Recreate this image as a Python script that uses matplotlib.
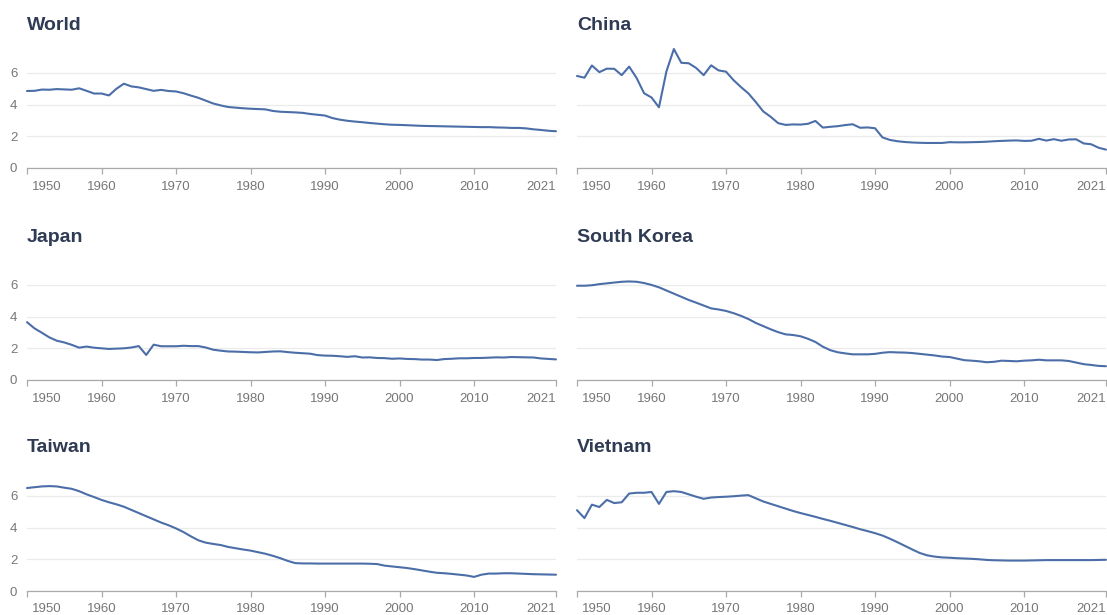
import matplotlib
matplotlib.use("Agg")
import matplotlib.pyplot as plt
from matplotlib.transforms import ScaledTranslation

plt.rcParams['font.family'] = ['Liberation Sans', 'DejaVu Sans']

years = list(range(1950, 2022))

world = [4.86, 4.87, 4.95, 4.94, 4.98, 4.96, 4.94, 5.03, 4.87, 4.70,
         4.70, 4.58, 5.00, 5.32, 5.15, 5.09, 4.98, 4.87, 4.93, 4.86,
         4.83, 4.72, 4.57, 4.43, 4.25, 4.07, 3.95, 3.85, 3.81, 3.77,
         3.74, 3.72, 3.70, 3.60, 3.55, 3.53, 3.51, 3.48, 3.41, 3.36,
         3.31, 3.15, 3.05, 2.98, 2.93, 2.89, 2.84, 2.80, 2.76, 2.73,
         2.72, 2.70, 2.68, 2.66, 2.65, 2.64, 2.63, 2.62, 2.61, 2.60,
         2.59, 2.58, 2.58, 2.56, 2.55, 2.53, 2.53, 2.50, 2.44, 2.40,
         2.35, 2.32]

china = [5.81, 5.70, 6.47, 6.05, 6.27, 6.26, 5.86, 6.40, 5.68, 4.72,
         4.45, 3.83, 6.09, 7.51, 6.64, 6.61, 6.31, 5.86, 6.48, 6.16,
         6.08, 5.55, 5.11, 4.71, 4.16, 3.57, 3.23, 2.83, 2.72, 2.75,
         2.74, 2.79, 2.97, 2.55, 2.60, 2.64, 2.71, 2.76, 2.54, 2.56,
         2.51, 1.93, 1.77, 1.69, 1.64, 1.61, 1.59, 1.58, 1.58, 1.58,
         1.63, 1.62, 1.62, 1.63, 1.64, 1.66, 1.69, 1.71, 1.73, 1.74,
         1.71, 1.72, 1.84, 1.73, 1.82, 1.72, 1.80, 1.81, 1.55, 1.50,
         1.28, 1.16]

japan = [3.65, 3.26, 2.98, 2.69, 2.48, 2.37, 2.22, 2.04, 2.11, 2.04,
         2.00, 1.96, 1.98, 2.00, 2.05, 2.14, 1.58, 2.23, 2.13, 2.13,
         2.13, 2.16, 2.14, 2.14, 2.05, 1.91, 1.85, 1.80, 1.79, 1.77,
         1.75, 1.74, 1.77, 1.80, 1.81, 1.76, 1.72, 1.69, 1.66, 1.57,
         1.54, 1.53, 1.50, 1.46, 1.50, 1.42, 1.43, 1.39, 1.38, 1.34,
         1.36, 1.33, 1.32, 1.29, 1.29, 1.26, 1.32, 1.34, 1.37, 1.37,
         1.39, 1.39, 1.41, 1.43, 1.42, 1.45, 1.44, 1.43, 1.42, 1.36,
         1.33, 1.30]

south_korea = [5.95, 5.95, 5.98, 6.05, 6.10, 6.15, 6.20, 6.22, 6.20, 6.12,
               6.00, 5.85, 5.65, 5.45, 5.25, 5.05, 4.88, 4.70, 4.52, 4.45,
               4.36, 4.22, 4.05, 3.85, 3.60, 3.40, 3.20, 3.02, 2.88, 2.84,
               2.76, 2.60, 2.40, 2.10, 1.88, 1.75, 1.68, 1.62, 1.62, 1.62,
               1.65, 1.72, 1.76, 1.74, 1.73, 1.70, 1.65, 1.60, 1.55, 1.48,
               1.45, 1.35, 1.25, 1.22, 1.18, 1.12, 1.15, 1.22, 1.20, 1.18,
               1.22, 1.24, 1.28, 1.24, 1.24, 1.24, 1.20, 1.10, 1.00, 0.95,
               0.89, 0.87]

taiwan = [6.50, 6.55, 6.60, 6.62, 6.60, 6.52, 6.45, 6.30, 6.10, 5.93,
          5.75, 5.60, 5.47, 5.32, 5.12, 4.92, 4.72, 4.52, 4.32, 4.15,
          3.95, 3.72, 3.45, 3.20, 3.05, 2.97, 2.90, 2.78, 2.70, 2.62,
          2.55, 2.45, 2.35, 2.22, 2.07, 1.90, 1.76, 1.74, 1.74, 1.73,
          1.73, 1.73, 1.73, 1.73, 1.73, 1.73, 1.72, 1.70, 1.60, 1.55,
          1.50, 1.45, 1.38, 1.30, 1.22, 1.15, 1.12, 1.08, 1.03, 0.98,
          0.89, 1.03, 1.10, 1.10, 1.12, 1.12, 1.10, 1.08, 1.06, 1.05,
          1.04, 1.03]

vietnam = [5.10, 4.60, 5.45, 5.30, 5.75, 5.55, 5.60, 6.15, 6.20, 6.20,
           6.25, 5.50, 6.25, 6.30, 6.25, 6.10, 5.95, 5.82, 5.90, 5.93,
           5.95, 5.98, 6.02, 6.05, 5.85, 5.65, 5.50, 5.35, 5.20, 5.05,
           4.92, 4.80, 4.68, 4.55, 4.43, 4.30, 4.17, 4.04, 3.90, 3.78,
           3.65, 3.50, 3.30, 3.08, 2.85, 2.62, 2.40, 2.25, 2.17, 2.12,
           2.10, 2.07, 2.05, 2.03, 2.00, 1.96, 1.94, 1.93, 1.92, 1.92,
           1.92, 1.93, 1.94, 1.95, 1.95, 1.95, 1.95, 1.95, 1.95, 1.95,
           1.96, 1.97]

panel_names = ["World", "China", "Japan", "South Korea", "Taiwan", "Vietnam"]
panel_values = [world, china, japan, south_korea, taiwan, vietnam]

x_ticks = [1950, 1960, 1970, 1980, 1990, 2000, 2010, 2021]
y_ticks = [0, 2, 4, 6]

LINE = "#4c6ea8"
TITLE = "#2f3b54"
TICK_TEXT = "#777777"
AXIS = "#aaaaaa"
GRID = "#ebebeb"

W, H = 1107, 615
fig = plt.figure(figsize=(W / 100, H / 100), dpi=100)
fig.patch.set_facecolor("white")

col_left = [27, 577]
ax_width = 529
row_base = [168, 380, 591]
ax_height = 122

for i, (name, vals) in enumerate(zip(panel_names, panel_values)):
    r, c = divmod(i, 2)
    ax = fig.add_axes([col_left[c] / W, 1 - row_base[r] / H,
                       ax_width / W, ax_height / H])
    ax.plot(years, vals, color=LINE, lw=1.5, solid_joinstyle="round",
            solid_capstyle="round", clip_on=False, zorder=3)
    ax.set_xlim(1950, 2021)
    ax.set_ylim(0, 7.7)

    for s in ("top", "right", "left"):
        ax.spines[s].set_visible(False)
    ax.spines["bottom"].set_color(AXIS)
    ax.spines["bottom"].set_linewidth(0.9)

    ax.set_yticks(y_ticks)
    ax.yaxis.grid(True, color=GRID, lw=0.9)
    ax.set_axisbelow(True)
    ax.tick_params(axis="y", length=0, pad=7, labelsize=9.5,
                   labelcolor=TICK_TEXT)
    if c == 1:
        ax.tick_params(axis="y", labelleft=False)

    ax.set_xticks(x_ticks)
    ax.set_xticklabels([str(t) for t in x_ticks])
    ax.tick_params(axis="x", direction="out", length=4, width=0.9,
                   color=AXIS, pad=5, labelsize=9.5, labelcolor=TICK_TEXT)
    labels = ax.get_xticklabels()
    labels[0].set_horizontalalignment("left")
    labels[0].set_transform(labels[0].get_transform() +
                            ScaledTranslation(5 / 100, 0, fig.dpi_scale_trans))
    labels[-1].set_horizontalalignment("right")

    ax.text(0, 1 + 21 / ax_height, name, transform=ax.transAxes,
            ha="left", va="center", fontsize=14, fontweight="bold",
            color=TITLE)

fig.savefig("out.png", dpi=100, facecolor="white")
